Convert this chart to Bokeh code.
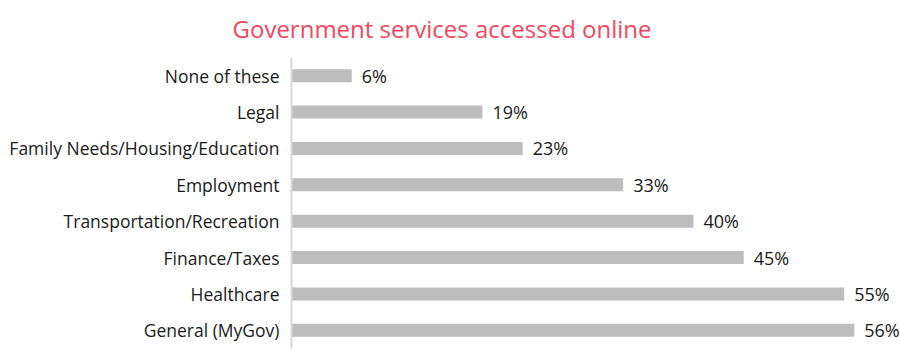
from bokeh.plotting import figure
from bokeh.models import ColumnDataSource, Range1d, FactorRange, Title
from bokeh.core.properties import value
from bokeh.embed import file_html
from bokeh.resources import INLINE

categories = ["General (MyGov)", "Healthcare", "Finance/Taxes", "Transportation/Recreation",
              "Employment", "Family Needs/Housing/Education", "Legal", "None of these"]
values = [56, 55, 45, 40, 33, 23, 19, 6]
labels = [f"{v}%" for v in values]
title_text = "Government services accessed online"

src = ColumnDataSource(dict(cat=categories, val=values, lab=labels))

p = figure(width=900, height=362, output_backend="svg", toolbar_location=None,
           y_range=FactorRange(factors=categories), x_range=Range1d(0, 60.6),
           min_border_left=291, min_border_right=0, min_border_top=56, min_border_bottom=14)

p.title = Title(text=title_text, align="left", offset=-59, vertical_align="top",
                text_font="Open Sans", text_font_size="24px", text_font_style="normal",
                text_color="#F4475D", standoff=22)

p.hbar(y="cat", right="val", left=0, height=0.36, source=src, color="#BDBDBD", line_color=None)
p.text(x="val", y="cat", text="lab", source=src, x_offset=10, text_baseline="middle",
       text_align="left", text_font=value("Open Sans"), text_font_size="18px", text_color="#1A1A1A")

p.xaxis.visible = False
p.xgrid.visible = False
p.ygrid.visible = False
p.outline_line_color = None
ax = p.yaxis[0]
ax.axis_line_color = "#D9D9D9"
ax.axis_line_width = 2
ax.major_tick_line_color = None
ax.minor_tick_line_color = None
ax.major_tick_out = 0
ax.major_label_standoff = 12
ax.major_label_text_font = "Open Sans"
ax.major_label_text_font_size = "17.5px"
ax.major_label_text_color = "#1A1A1A"

open("out.html", "w").write(file_html(p, INLINE))
